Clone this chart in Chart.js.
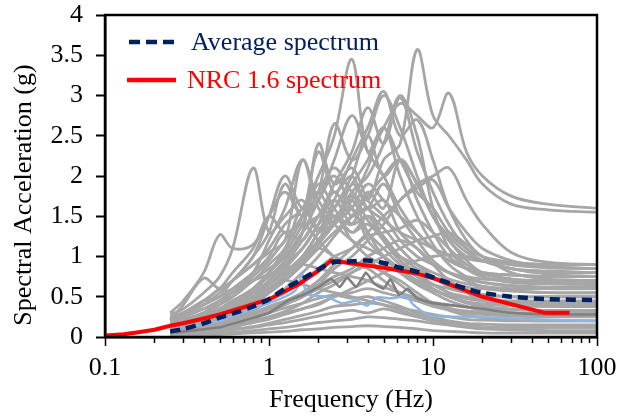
<!DOCTYPE html>
<html>
<head>
<meta charset="utf-8">
<script src="https://cdn.jsdelivr.net/npm/chart.js@4.4.1/dist/chart.umd.min.js"></script>
<style>
  html, body { margin: 0; padding: 0; background: #fff; }
  #chart { display: block; }
</style>
</head>
<body>
<canvas id="chart" width="620" height="416"></canvas>
<script>
// frequency grid shared by the recorded spectra (Hz)
const freqs = [0.25, 0.3, 0.4, 0.5, 0.6, 0.8, 1, 1.25, 1.6, 2, 2.5, 3.2, 4, 5, 6.3, 8, 10, 12.5, 16, 20, 30, 50, 100];

// individual record spectra (g)
const rec01 = [0.2, 0.25, 0.35, 0.45, 0.5, 0.7, 0.85, 1.0, 1.3, 1.5, 1.4, 1.9, 1.7, 2.2, 2.4, 3.57, 2.75, 2.5, 2.2, 1.9, 1.65, 1.58, 1.55];
const rec02 = [0.15, 0.2, 0.3, 0.35, 0.45, 0.55, 0.7, 0.9, 1.1, 1.4, 1.6, 1.9, 2.2, 2.6, 2.9, 2.75, 2.6, 3.03, 2.3, 2.0, 1.75, 1.65, 1.6];
const rec03 = [0.25, 0.3, 0.45, 0.5, 0.7, 0.9, 1.1, 1.4, 1.6, 2.0, 2.5, 3.45, 2.3, 2.6, 2.2, 1.8, 1.6, 1.3, 1.1, 1.0, 0.93, 0.9, 0.9];
const rec04 = [0.28, 0.35, 0.55, 0.75, 1.1, 2.1, 1.3, 1.5, 1.7, 1.3, 1.5, 1.2, 1.0, 0.9, 0.8, 0.7, 0.65, 0.55, 0.5, 0.45, 0.42, 0.4, 0.4];
const rec05 = [0.3, 0.45, 0.8, 1.27, 1.1, 1.15, 1.5, 1.8, 1.5, 1.7, 2.0, 1.6, 1.3, 1.1, 0.9, 0.75, 0.65, 0.6, 0.55, 0.52, 0.5, 0.5, 0.5];
const rec06 = [0.22, 0.4, 0.73, 0.6, 0.7, 0.9, 1.05, 1.2, 2.2, 1.6, 1.4, 1.2, 1.1, 1.0, 0.85, 0.7, 0.6, 0.5, 0.42, 0.38, 0.35, 0.33, 0.33];
const rec07 = [0.1, 0.15, 0.25, 0.35, 0.45, 0.6, 0.75, 0.95, 1.3, 2.4, 1.9, 2.1, 1.7, 1.5, 1.2, 1.0, 0.9, 0.8, 0.75, 0.72, 0.7, 0.7, 0.7];
const rec08 = [0.12, 0.18, 0.3, 0.4, 0.5, 0.75, 0.95, 1.2, 1.5, 1.8, 2.65, 2.2, 2.5, 3.0, 2.6, 2.0, 1.5, 1.2, 1.0, 0.95, 0.9, 0.87, 0.85];
const rec09 = [0.08, 0.12, 0.2, 0.28, 0.35, 0.5, 0.7, 0.9, 1.2, 1.5, 1.9, 2.3, 2.85, 2.4, 2.97, 2.3, 1.8, 1.4, 1.1, 0.95, 0.85, 0.8, 0.8];
const rec10 = [0.05, 0.07, 0.1, 0.14, 0.18, 0.25, 0.32, 0.4, 0.55, 0.7, 0.9, 1.1, 1.3, 1.5, 1.7, 1.9, 2.0, 2.1, 1.7, 1.4, 1.05, 0.93, 0.9];
const rec11 = [0.04, 0.06, 0.09, 0.12, 0.16, 0.22, 0.3, 0.4, 0.5, 0.65, 0.85, 1.0, 1.2, 1.4, 1.7, 1.85, 1.95, 1.6, 1.3, 1.1, 0.95, 0.87, 0.85];
const rec12 = [0.18, 0.22, 0.3, 0.4, 0.55, 0.7, 0.9, 1.1, 1.6, 1.35, 1.5, 1.3, 1.4, 1.2, 1.0, 0.9, 0.8, 0.72, 0.66, 0.63, 0.6, 0.6, 0.6];
const rec13 = [0.1, 0.14, 0.2, 0.3, 0.35, 0.45, 0.6, 0.75, 0.95, 1.2, 1.4, 1.6, 1.9, 1.7, 1.5, 1.3, 1.1, 0.95, 0.85, 0.8, 0.77, 0.75, 0.75];
const rec14 = [0.15, 0.2, 0.3, 0.45, 0.55, 0.8, 1.2, 1.6, 2.2, 1.7, 1.5, 1.7, 1.3, 1.0, 0.8, 0.65, 0.55, 0.45, 0.38, 0.33, 0.3, 0.28, 0.28];
const rec15 = [0.05, 0.07, 0.1, 0.13, 0.16, 0.2, 0.25, 0.3, 0.35, 0.4, 0.5, 0.55, 0.6, 0.55, 0.5, 0.45, 0.4, 0.35, 0.3, 0.28, 0.26, 0.25, 0.25];
const rec16 = [0.03, 0.04, 0.06, 0.08, 0.1, 0.13, 0.17, 0.22, 0.27, 0.32, 0.38, 0.4, 0.42, 0.4, 0.36, 0.32, 0.28, 0.25, 0.22, 0.21, 0.2, 0.2, 0.2];
const rec17 = [0.02, 0.03, 0.04, 0.05, 0.06, 0.08, 0.1, 0.12, 0.15, 0.18, 0.2, 0.22, 0.25, 0.24, 0.22, 0.2, 0.17, 0.15, 0.13, 0.12, 0.12, 0.12, 0.12];
const rec18 = [0.02, 0.02, 0.03, 0.03, 0.04, 0.05, 0.06, 0.07, 0.09, 0.1, 0.12, 0.13, 0.14, 0.13, 0.12, 0.1, 0.08, 0.07, 0.06, 0.05, 0.05, 0.05, 0.05];
const rec19 = [0.03, 0.04, 0.05, 0.07, 0.09, 0.12, 0.15, 0.18, 0.22, 0.26, 0.3, 0.33, 0.3, 0.35, 0.3, 0.25, 0.2, 0.15, 0.12, 0.1, 0.09, 0.08, 0.08];
const rec20 = [0.06, 0.08, 0.12, 0.15, 0.18, 0.24, 0.3, 0.36, 0.42, 0.48, 0.52, 0.48, 0.5, 0.45, 0.38, 0.3, 0.25, 0.2, 0.17, 0.16, 0.15, 0.15, 0.15];
const rec21 = [0.07, 0.1, 0.14, 0.18, 0.22, 0.3, 0.38, 0.45, 0.55, 0.65, 0.75, 0.85, 1.0, 1.1, 1.2, 1.1, 0.9, 0.7, 0.55, 0.46, 0.4, 0.38, 0.38];
const rec22 = [0.1, 0.13, 0.18, 0.22, 0.28, 0.35, 0.45, 0.55, 0.7, 0.85, 1.0, 1.1, 1.25, 1.3, 1.35, 1.45, 1.3, 1.1, 0.9, 0.8, 0.7, 0.67, 0.65];
const rec23 = [0.2, 0.25, 0.35, 0.45, 0.6, 0.8, 1.0, 1.3, 1.2, 1.5, 1.4, 1.75, 1.45, 1.25, 1.0, 0.85, 0.75, 0.68, 0.62, 0.6, 0.57, 0.55, 0.55];
const rec24 = [0.12, 0.16, 0.22, 0.3, 0.38, 0.5, 0.65, 0.8, 1.0, 1.2, 1.5, 1.4, 1.8, 1.6, 2.2, 1.9, 1.5, 1.25, 1.05, 0.95, 0.85, 0.82, 0.8];
const rec25 = [0.06, 0.08, 0.12, 0.16, 0.2, 0.28, 0.35, 0.42, 0.5, 0.6, 0.7, 0.8, 0.9, 1.0, 1.1, 1.2, 1.25, 1.3, 1.15, 1.0, 0.8, 0.72, 0.7];
const rec26 = [0.2, 0.28, 0.4, 0.5, 0.6, 0.7, 0.78, 0.85, 0.9, 0.85, 0.8, 0.75, 0.7, 0.62, 0.55, 0.48, 0.43, 0.4, 0.37, 0.35, 0.34, 0.33, 0.33];
const rec27 = [0.15, 0.2, 0.28, 0.35, 0.45, 0.55, 0.7, 0.9, 1.1, 1.4, 1.8, 1.5, 1.6, 1.2, 0.95, 0.8, 0.65, 0.55, 0.48, 0.45, 0.43, 0.42, 0.42];
const rec28 = [0.1, 0.15, 0.22, 0.3, 0.4, 0.5, 0.6, 0.7, 0.65, 0.6, 0.55, 0.5, 0.45, 0.4, 0.33, 0.27, 0.22, 0.18, 0.15, 0.13, 0.12, 0.12, 0.12];
const rec29 = [0.08, 0.12, 0.18, 0.25, 0.32, 0.45, 0.6, 0.75, 0.95, 1.1, 1.0, 0.9, 0.95, 0.8, 0.65, 0.5, 0.42, 0.36, 0.32, 0.3, 0.28, 0.28, 0.28];
const rec30 = [0.09, 0.12, 0.18, 0.24, 0.3, 0.42, 0.55, 0.7, 0.9, 1.15, 1.4, 1.7, 2.1, 2.6, 2.0, 1.5, 1.15, 0.9, 0.75, 0.68, 0.63, 0.6, 0.6];
const rec31 = [0.14, 0.18, 0.25, 0.32, 0.4, 0.6, 0.8, 1.05, 1.4, 1.9, 1.6, 1.3, 1.5, 1.35, 1.1, 0.9, 0.75, 0.62, 0.56, 0.53, 0.5, 0.5, 0.5];
const rec32 = [0.05, 0.06, 0.08, 0.1, 0.13, 0.18, 0.22, 0.28, 0.35, 0.42, 0.5, 0.6, 0.7, 0.8, 0.88, 0.95, 1.0, 1.02, 1.0, 0.95, 0.85, 0.78, 0.75];
const rec33 = [0.04, 0.05, 0.08, 0.1, 0.13, 0.18, 0.25, 0.32, 0.42, 0.55, 0.65, 0.8, 0.9, 0.8, 0.7, 0.55, 0.42, 0.33, 0.27, 0.24, 0.21, 0.2, 0.2];
const rec34 = [0.25, 0.3, 0.45, 0.6, 0.7, 1.0, 1.3, 1.9, 1.5, 1.8, 2.1, 1.8, 1.6, 1.45, 1.3, 1.2, 1.1, 1.02, 0.97, 0.94, 0.92, 0.9, 0.9];
const rec35 = [0.1, 0.14, 0.2, 0.26, 0.32, 0.45, 0.6, 0.75, 0.95, 1.2, 1.45, 1.8, 2.0, 2.4, 3.0, 2.5, 1.6, 1.1, 0.85, 0.75, 0.68, 0.66, 0.65];
const rec36 = [0.11, 0.15, 0.22, 0.3, 0.37, 0.5, 0.65, 0.8, 1.0, 1.3, 1.7, 2.2, 2.6, 3.05, 2.5, 2.7, 2.2, 1.6, 1.2, 1.0, 0.9, 0.86, 0.85];
const rec37 = [0.12, 0.16, 0.24, 0.3, 0.4, 0.55, 0.8, 1.1, 1.5, 2.3, 1.8, 2.0, 1.6, 1.7, 1.3, 1.1, 0.9, 0.8, 0.72, 0.68, 0.64, 0.62, 0.62];
const rec38 = [0.2, 0.28, 0.4, 0.55, 0.7, 1.0, 1.5, 2.0, 1.6, 1.8, 1.5, 1.6, 1.2, 1.0, 0.8, 0.68, 0.58, 0.52, 0.48, 0.46, 0.45, 0.45, 0.45];
const rec39 = [0.08, 0.1, 0.15, 0.2, 0.28, 0.4, 0.55, 0.75, 1.0, 1.3, 1.6, 2.0, 2.5, 2.0, 2.2, 1.7, 1.3, 1.0, 0.85, 0.78, 0.72, 0.7, 0.7];
const rec40 = [0.1, 0.13, 0.18, 0.25, 0.3, 0.42, 0.55, 0.7, 0.9, 1.1, 1.3, 1.5, 1.6, 1.9, 1.5, 1.2, 0.95, 0.8, 0.7, 0.63, 0.58, 0.55, 0.55];
const rec41 = [0.13, 0.17, 0.25, 0.33, 0.42, 0.6, 0.8, 1.0, 1.3, 1.7, 2.2, 2.75, 2.3, 2.0, 1.6, 1.3, 1.1, 0.95, 0.85, 0.8, 0.77, 0.75, 0.75];
const rec42 = [0.22, 0.3, 0.45, 0.6, 0.8, 1.1, 1.5, 1.3, 1.4, 1.2, 1.0, 0.9, 0.85, 0.7, 0.55, 0.45, 0.38, 0.34, 0.32, 0.31, 0.3, 0.3, 0.3];
const rec43 = [0.07, 0.09, 0.13, 0.18, 0.24, 0.33, 0.45, 0.6, 0.8, 1.0, 1.25, 1.5, 1.75, 2.0, 2.2, 1.9, 1.5, 1.2, 0.95, 0.8, 0.72, 0.69, 0.68];
const rec44 = [0.09, 0.12, 0.18, 0.25, 0.33, 0.48, 0.65, 0.85, 1.1, 1.4, 1.7, 1.4, 1.5, 1.2, 0.95, 0.75, 0.6, 0.5, 0.44, 0.41, 0.39, 0.38, 0.38];
const records = [rec01, rec02, rec03, rec04, rec05, rec06, rec07, rec08, rec09, rec10, rec11,
  rec12, rec13, rec14, rec15, rec16, rec17, rec18, rec19, rec20, rec21, rec22,
  rec23, rec24, rec25, rec26, rec27, rec28, rec29, rec30, rec31, rec32, rec33,
  rec34, rec35, rec36, rec37, rec38, rec39, rec40, rec41, rec42, rec43, rec44];

// highlighted records
const blueFreq = [0.25, 0.3, 0.4, 0.5, 0.6, 0.8, 1, 1.25, 1.45, 1.6, 1.7, 2.24, 2.8, 3.44, 3.95, 4.55, 5.5, 6.9, 7.6, 9.6, 20, 40, 100];
const blueVals = [0.08, 0.12, 0.16, 0.2, 0.26, 0.35, 0.42, 0.5, 0.58, 0.78, 0.54, 0.5, 0.42, 0.45, 0.39, 0.49, 0.48, 0.5, 0.4, 0.27, 0.25, 0.22, 0.2];
const darkFreq = [0.25, 0.5, 1, 1.3, 1.6, 2.0, 2.4, 2.7, 3.0, 3.4, 3.9, 4.4, 5.0, 5.5, 6.2, 7.0, 8, 10, 15, 20, 30, 50, 100];
const darkVals = [0.05, 0.12, 0.3, 0.45, 0.52, 0.62, 0.72, 0.62, 0.74, 0.62, 0.8, 0.66, 0.6, 0.72, 0.52, 0.6, 0.48, 0.42, 0.38, 0.35, 0.3, 0.28, 0.28];

// average of records
const avgVals = [0.07, 0.1, 0.17, 0.24, 0.29, 0.38, 0.47, 0.6, 0.72, 0.84, 0.93, 0.94, 0.95, 0.92, 0.86, 0.81, 0.74, 0.67, 0.6, 0.55, 0.5, 0.47, 0.46];

// NRC 1.6 design spectrum
const nrcFreq = [0.1, 0.13, 0.16, 0.2, 0.25, 0.3, 0.4, 0.5, 0.7, 1, 1.5, 2, 2.4, 5, 8, 10, 20, 48, 68];
const nrcVals = [0.02, 0.035, 0.06, 0.09, 0.14, 0.17, 0.23, 0.28, 0.37, 0.47, 0.65, 0.82, 0.95, 0.86, 0.79, 0.73, 0.5, 0.3, 0.3];

const xTickLabels = [0.1, 1, 10, 100];
const yTickLabels = [0, 0.5, 1, 1.5, 2, 2.5, 3, 3.5, 4];

const FONT = '"Liberation Serif", "Times New Roman", serif';

function toPoints(xs, ys) {
  return ys.map((y, i) => ({ x: xs[i], y }));
}

// every tick position on the log axis (1..9 per decade)
const xTickValues = [];
for (let d = 0.1; d < 100; d *= 10) {
  for (let k = 1; k < 10; k++) xTickValues.push(+(d * k).toPrecision(3));
}
xTickValues.push(100);

const datasets = [
  {
    label: 'Average spectrum',
    data: toPoints(freqs, avgVals),
    borderColor: '#002060',
    borderWidth: 4.5,
    borderDash: [10, 6],
    tension: 0.3,
    order: 0
  },
  {
    label: 'NRC 1.6 spectrum',
    data: toPoints(nrcFreq, nrcVals),
    borderColor: '#FF0000',
    borderWidth: 4,
    tension: 0,
    order: 1
  },
  {
    label: 'dark',
    data: toPoints(darkFreq, darkVals),
    borderColor: '#7F7F7F',
    borderWidth: 2.5,
    tension: 0.1,
    order: 2
  },
  {
    label: 'blue',
    data: toPoints(blueFreq, blueVals),
    borderColor: '#8DB4E2',
    borderWidth: 2.5,
    tension: 0.3,
    order: 2
  }
];

records.forEach((vals, i) => {
  datasets.push({
    label: 'rec' + (i + 1),
    data: toPoints(freqs, vals),
    borderColor: '#A6A6A6',
    borderWidth: 2.8,
    tension: 0.35,
    order: 3
  });
});

const overlay = {
  id: 'overlay',
  afterDraw(chart) {
    const { ctx, chartArea: a, scales: { x } } = chart;
    ctx.save();
    ctx.setLineDash([]);
    ctx.strokeStyle = '#000';
    ctx.lineWidth = 1.5;
    xTickValues.forEach((v) => {
      const px = Math.round(x.getPixelForValue(v)) + 0.5;
      const major = xTickLabels.includes(v);
      ctx.beginPath();
      ctx.moveTo(px, a.bottom);
      ctx.lineTo(px, a.bottom + (major ? 9 : 6));
      ctx.stroke();
    });

    // plot frame
    ctx.lineWidth = 2.5;
    ctx.beginPath();
    ctx.moveTo(a.left, a.top);
    ctx.lineTo(a.right, a.top);
    ctx.lineTo(a.right, a.bottom);
    ctx.lineTo(a.left, a.bottom);
    ctx.closePath();
    ctx.stroke();

    // legend inside the plot
    ctx.font = '26px ' + FONT;
    ctx.textBaseline = 'alphabetic';
    ctx.lineWidth = 4.5;
    ctx.strokeStyle = '#002060';
    ctx.setLineDash([11, 6]);
    ctx.beginPath();
    ctx.moveTo(129, 42);
    ctx.lineTo(177, 42);
    ctx.stroke();
    ctx.setLineDash([]);
    ctx.fillStyle = '#002060';
    ctx.fillText('Average spectrum', 191, 50);
    ctx.strokeStyle = '#FF0000';
    ctx.beginPath();
    ctx.moveTo(127, 80);
    ctx.lineTo(176, 80);
    ctx.stroke();
    ctx.fillStyle = '#FF0000';
    ctx.fillText('NRC 1.6 spectrum', 187, 88);

    // y axis title
    ctx.fillStyle = '#000';
    ctx.translate(24, 195);
    ctx.rotate(-Math.PI / 2);
    ctx.textAlign = 'center';
    ctx.textBaseline = 'middle';
    ctx.fillText('Spectral Acceleration (g)', 0, 0);
    ctx.restore();
  }
};

new Chart(document.getElementById('chart'), {
  type: 'line',
  data: { datasets },
  options: {
    responsive: false,
    animation: false,
    layout: { padding: { left: 0, top: 15, right: 23, bottom: 0 } },
    elements: { point: { radius: 0 } },
    plugins: {
      legend: { display: false },
      tooltip: { enabled: false }
    },
    scales: {
      x: {
        type: 'logarithmic',
        min: 0.1,
        max: 100,
        afterBuildTicks: (scale) => {
          scale.ticks = xTickValues.map((v) => ({ value: v }));
        },
        afterFit: (scale) => {
          scale.height = 79;
          scale.paddingLeft = 0;
          scale.paddingRight = 0;
        },
        ticks: {
          autoSkip: false,
          maxRotation: 0,
          padding: 8,
          color: '#000',
          font: { family: FONT, size: 26 },
          callback: (v) => (xTickLabels.includes(v) ? String(v) : '')
        },
        grid: { display: true, drawOnChartArea: false, tickLength: 8, tickColor: 'rgba(0,0,0,0)' },
        border: { color: '#000', width: 2.5 },
        title: {
          display: true,
          text: 'Frequency (Hz)',
          color: '#000',
          font: { family: FONT, size: 26 },
          padding: { top: 0, bottom: 0 }
        }
      },
      y: {
        min: 0,
        max: 4,
        afterBuildTicks: (scale) => {
          scale.ticks = yTickLabels.map((v) => ({ value: v }));
        },
        afterFit: (scale) => {
          scale.width = 105;
          scale.paddingTop = 0;
          scale.paddingBottom = 0;
        },
        ticks: {
          padding: 13,
          color: '#000',
          font: { family: FONT, size: 26 },
          callback: (v) => String(v)
        },
        grid: { display: true, drawOnChartArea: false, tickLength: 9, tickColor: '#000', tickWidth: 2 },
        border: { color: '#000', width: 2.5 }
      }
    }
  },
  plugins: [overlay]
});
</script>
</body>
</html>
